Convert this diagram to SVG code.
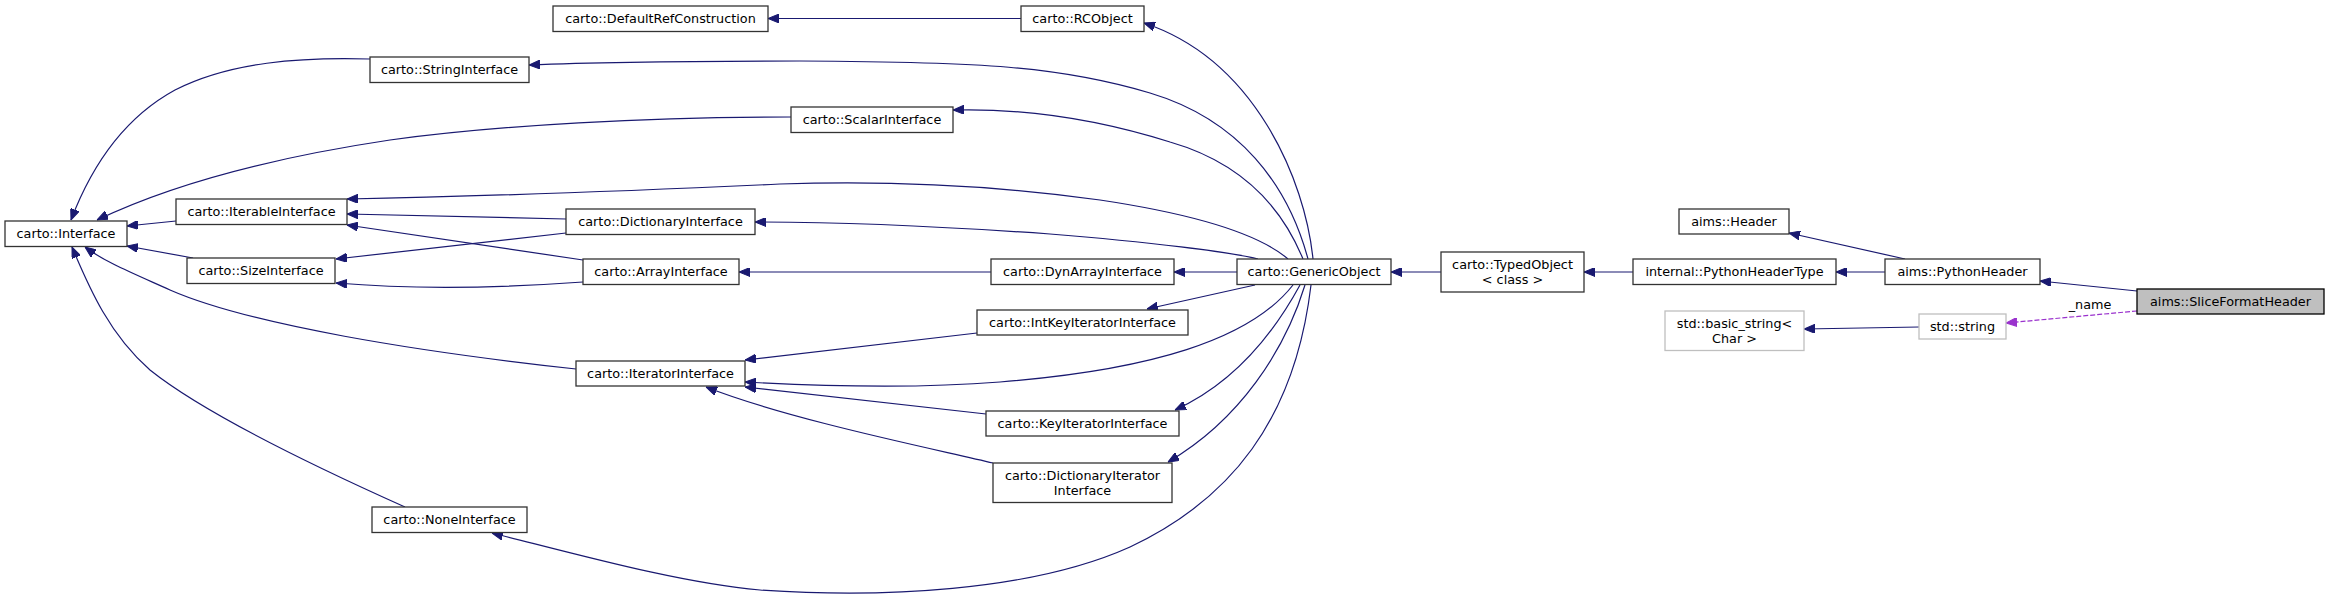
<svg xmlns="http://www.w3.org/2000/svg" width="2329" height="599" viewBox="0 0 2329 599">
<style>
.n rect{fill:#fff;stroke:#333;stroke-width:1.3}
.n text{font-family:"DejaVu Sans",sans-serif;font-size:12.8px;fill:#000;text-anchor:middle}
.g rect{stroke:#bfbfbf}
.sel rect{fill:#bfbfbf;stroke:#000}
.e path{fill:none;stroke:#191970;stroke-width:1.2;marker-end:url(#ah)}
.e path.u{stroke:#9a32cd;stroke-dasharray:5,2;marker-end:url(#ap)}
.lbl{font-family:"DejaVu Sans",sans-serif;font-size:12.8px;fill:#000;text-anchor:middle}
</style>
<defs>
<marker id="ah" viewBox="0 0 11 9" refX="11" refY="4.5" markerWidth="11" markerHeight="9" markerUnits="userSpaceOnUse" orient="auto"><path d="M0,0 L11,4.5 L0,9 z" fill="#191970" stroke="#191970" stroke-width="1"/></marker>
<marker id="ap" viewBox="0 0 11 9" refX="11" refY="4.5" markerWidth="11" markerHeight="9" markerUnits="userSpaceOnUse" orient="auto"><path d="M0,0 L11,4.5 L0,9 z" fill="#9a32cd" stroke="#9a32cd" stroke-width="1"/></marker>
</defs>
<rect width="2329" height="599" fill="#fff"/>
<g id="edges" class="e">
<path d="M1021,18.5 L768,18.5"/>
<path d="M1313,259 C1305,180 1255,60 1144,23"/>
<path d="M1308,259 C1288,185 1240,120 1150,93 C1060,66 980,62 800,61 C700,61 600,62 529,65"/>
<path d="M1303,259 C1285,215 1250,165 1170,142 C1100,120 1030,108 953,110"/>
<path d="M370,59 C300,57 230,62 175,90 C120,120 90,170 71,220"/>
<path d="M791,117 C650,117 500,125 390,140 C270,158 170,185 97,220"/>
<path d="M176,221 L127,226"/>
<path d="M193,258 L127,246"/>
<path d="M576,369 C420,352 250,325 170,290 C130,272 105,262 85,247"/>
<path d="M405,507 C300,460 200,410 150,370 C110,335 90,290 72,247"/>
<path d="M1288,259 C1260,235 1200,215 1100,200 C1000,186 900,180 780,184 C650,190 500,196 347,199"/>
<path d="M566,219 L347,214"/>
<path d="M583,260 L347,225"/>
<path d="M566,233 L336,259"/>
<path d="M583,282 C500,288 420,290 336,283"/>
<path d="M1258,259 C1230,252 1150,242 1050,234 C950,227 850,222 755,222"/>
<path d="M991,272 L739,272"/>
<path d="M1237,272 L1174,272"/>
<path d="M1255,285 L1147,309"/>
<path d="M977,333 L745,360"/>
<path d="M1293,285 C1250,340 1150,370 1000,382 C900,390 800,385 745,382"/>
<path d="M986,414 L745,387"/>
<path d="M993,463 C935,449 790,420 706,387"/>
<path d="M1300,285 C1270,340 1230,385 1175,410"/>
<path d="M1305,285 C1285,350 1240,420 1168,462"/>
<path d="M1311,285 C1295,420 1230,500 1130,547 C1030,592 880,598 760,590 C680,583 580,555 492,533"/>
<path d="M1441,272 L1391,272"/>
<path d="M1633,272 L1584,272"/>
<path d="M1885,272 L1836,272"/>
<path d="M1905,259 L1789,233"/>
<path d="M2137,291 L2040,281"/>
<path d="M1919,327 L1804,329"/>
<path class="u" d="M2137,311 L2006,323"/>
<text class="lbl" x="2090" y="309">_name</text>
</g>
<g id="n_drc" class="n"><rect x="553" y="6" width="215" height="25.5"/><text x="660.5" y="23">carto::DefaultRefConstruction</text></g>
<g id="n_rcobject" class="n"><rect x="1021" y="6" width="123" height="25.5"/><text x="1082.5" y="23">carto::RCObject</text></g>
<g id="n_string" class="n"><rect x="370" y="57" width="159" height="25.5"/><text x="449.5" y="74">carto::StringInterface</text></g>
<g id="n_scalar" class="n"><rect x="791" y="107" width="162" height="25.5"/><text x="872" y="124.3">carto::ScalarInterface</text></g>
<g id="n_iterable" class="n"><rect x="176" y="199" width="171" height="25.5"/><text x="261.5" y="216.3">carto::IterableInterface</text></g>
<g id="n_dict" class="n"><rect x="566" y="209" width="189" height="25.5"/><text x="660.5" y="226.3">carto::DictionaryInterface</text></g>
<g id="n_header" class="n"><rect x="1679" y="209" width="110" height="25"/><text x="1734" y="226">aims::Header</text></g>
<g id="n_interface" class="n"><rect x="5" y="221" width="122" height="25.5"/><text x="66" y="238.3">carto::Interface</text></g>
<g id="n_size" class="n"><rect x="187" y="258" width="148" height="25.5"/><text x="261" y="275.3">carto::SizeInterface</text></g>
<g id="n_array" class="n"><rect x="583" y="259" width="156" height="25.5"/><text x="661" y="276.3">carto::ArrayInterface</text></g>
<g id="n_dynarray" class="n"><rect x="991" y="259" width="183" height="25.5"/><text x="1082.5" y="276.3">carto::DynArrayInterface</text></g>
<g id="n_generic" class="n"><rect x="1237" y="259" width="154" height="25.5"/><text x="1314" y="276.3">carto::GenericObject</text></g>
<g id="n_typed" class="n"><rect x="1441" y="252" width="143" height="40"/><text x="1512.5" y="268.8">carto::TypedObject</text><text x="1512.5" y="283.8">&lt; class &gt;</text></g>
<g id="n_pht" class="n"><rect x="1633" y="259" width="203" height="25.5"/><text x="1734.5" y="276.3">internal::PythonHeaderType</text></g>
<g id="n_ph" class="n"><rect x="1885" y="259" width="155" height="25.5"/><text x="1962.5" y="276.3">aims::PythonHeader</text></g>
<g id="n_sfh" class="n sel"><rect x="2137" y="289" width="187" height="25"/><text x="2230.5" y="306">aims::SliceFormatHeader</text></g>
<g id="n_intkey" class="n"><rect x="977" y="310" width="211" height="25"/><text x="1082.5" y="327">carto::IntKeyIteratorInterface</text></g>
<g id="n_basicstring" class="n g"><rect x="1665" y="311" width="139" height="39.5"/><text x="1734.5" y="327.5">std::basic_string&lt;</text><text x="1734.5" y="342.5">Char &gt;</text></g>
<g id="n_stdstring" class="n g"><rect x="1919" y="314" width="87" height="25"/><text x="1962.5" y="331">std::string</text></g>
<g id="n_iterator" class="n"><rect x="576" y="361" width="169" height="25"/><text x="660.5" y="378">carto::IteratorInterface</text></g>
<g id="n_key" class="n"><rect x="986" y="411" width="193" height="25"/><text x="1082.5" y="428">carto::KeyIteratorInterface</text></g>
<g id="n_dictiter" class="n"><rect x="993" y="463" width="179" height="39.5"/><text x="1082.5" y="479.5">carto::DictionaryIterator</text><text x="1082.5" y="494.5">Interface</text></g>
<g id="n_none" class="n"><rect x="372" y="507" width="155" height="25.5"/><text x="449.5" y="524.3">carto::NoneInterface</text></g>
</svg>
